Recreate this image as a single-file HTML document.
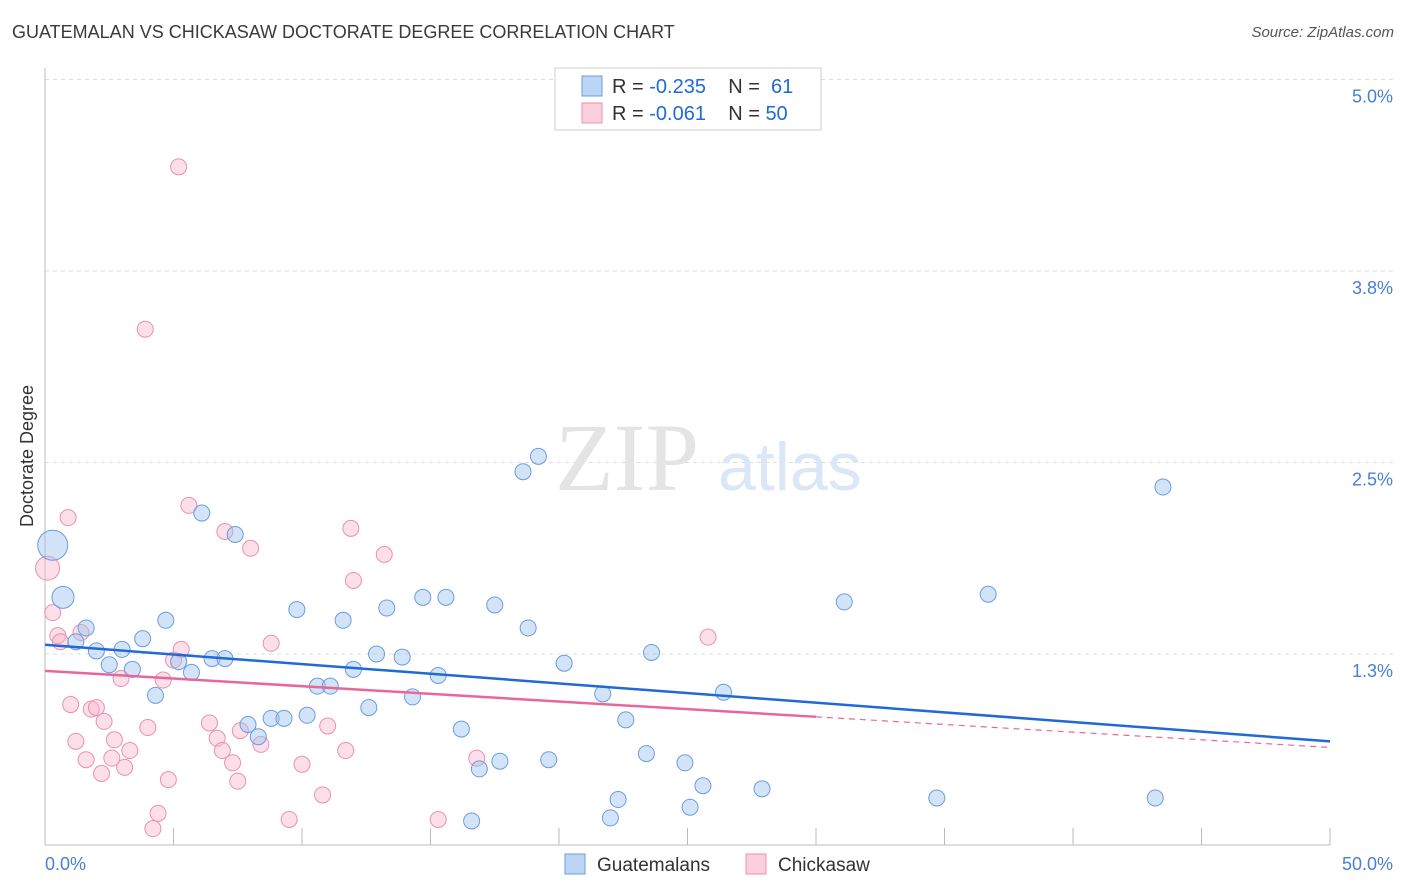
<!DOCTYPE html>
<html><head><meta charset="utf-8"><style>
body{margin:0;background:#fff;font-family:"Liberation Sans",sans-serif;}
#c{position:relative;width:1406px;height:892px;overflow:hidden;}
.title{position:absolute;left:12px;top:22px;font-size:18px;color:#3a3a3a;}
.src{position:absolute;right:12px;top:24px;font-size:15px;color:#555;font-style:italic;}
</style></head><body>
<div id="c">
<div class="title">GUATEMALAN VS CHICKASAW DOCTORATE DEGREE CORRELATION CHART</div>
<div class="src">Source: ZipAtlas.com</div>
<svg id="s" width="1406" height="892" style="position:absolute;left:0;top:0"></svg>
</div>
<script>
const yTicks=[1.25,2.5,3.75,5.0];
const yTickLabels=["1.3%","2.5%","3.8%","5.0%"];
const xTickLabels=["0.0%","50.0%"];
const blueX=[0.3,0.7,1.6,1.2,2.0,3.0,3.8,4.7,2.5,3.4,5.2,5.7,4.3,6.1,7.4,6.5,7.0,7.9,8.3,8.8,9.3,9.8,10.2,10.6,11.1,11.6,12.0,12.6,12.9,13.3,13.9,14.3,14.7,15.3,15.6,16.2,16.6,16.9,17.7,17.5,18.6,19.2,18.8,19.6,20.2,21.7,22.0,22.3,22.6,23.4,23.6,24.9,25.1,25.6,26.4,27.9,31.1,34.7,36.7,43.2,43.5];
const blueY=[1.96,1.62,1.42,1.33,1.27,1.28,1.35,1.47,1.18,1.15,1.20,1.13,0.98,2.17,2.03,1.22,1.22,0.79,0.71,0.83,0.83,1.54,0.85,1.04,1.04,1.47,1.15,0.90,1.25,1.55,1.23,0.97,1.62,1.11,1.62,0.76,0.16,0.50,0.55,1.57,2.44,2.54,1.42,0.56,1.19,0.99,0.18,0.30,0.82,0.60,1.26,0.54,0.25,0.39,1.00,0.37,1.59,0.31,1.64,0.31,2.34];
const pinkX=[0.1,0.3,0.9,0.5,0.6,1.4,1.0,1.2,1.6,1.8,2.0,2.2,2.3,2.6,2.7,2.960,3.1,3.3,3.9,4.0,4.2,4.4,4.6,4.8,5.0,5.2,5.3,5.6,6.4,6.7,6.9,7.0,7.3,7.5,7.6,8.0,8.4,8.8,9.5,10.0,10.8,11.0,11.7,11.9,12.0,13.2,15.3,16.8,25.8];
const pinkY=[1.81,1.52,2.14,1.37,1.33,1.39,0.92,0.68,0.56,0.89,0.90,0.47,0.81,0.57,0.69,1.09,0.51,0.62,3.37,0.77,0.11,0.21,1.08,0.43,1.21,4.43,1.28,2.22,0.80,0.70,0.62,2.05,0.54,0.42,0.75,1.94,0.66,1.32,0.17,0.53,0.33,0.78,0.62,2.07,1.73,1.90,0.17,0.57,1.36];
const blueBig=[15,11];
const X=v=>45+v/50*1285, Y=v=>845.5-v*153.2;
const s=document.getElementById('s');const NS='http://www.w3.org/2000/svg';
function mk(t,a,p){const e=document.createElementNS(NS,t);for(const k in a)e.setAttribute(k,a[k]);(p||s).appendChild(e);return e;}
yTicks.forEach((t,i)=>{
 const g=mk('line',{x1:45,x2:1395,y1:Y(t),y2:Y(t),stroke:'#ddd','stroke-dasharray':'4,4'});
 
 
 const l=mk('text',{x:1393,y:Y(t)+23,'text-anchor':'end','font-size':18,fill:'#4a7fd4','font-family':'Liberation Sans'});l.textContent=yTickLabels[i];
 
 
});
const wm=mk('text',{x:555,y:490,'font-size':96,fill:'#e4e4e4','font-family':'Liberation Serif'});wm.textContent='ZIP';


const wm2=mk('text',{x:718,y:490,'font-size':68,fill:'#dbe6f6','font-family':'Liberation Sans'});wm2.textContent='atlas';


const ax=mk('line',{x1:45,x2:45,y1:68,y2:845,stroke:'#bbb'});


const bx=mk('line',{x1:45,x2:1330,y1:845,y2:845,stroke:'#bbb'});


for(let i=0;i<=10;i++){const t=mk('line',{x1:X(i*5),x2:X(i*5),y1:828,y2:845,stroke:'#bbb'});
 
 }
[[0,'start',45],[1,'end',1393]].forEach(([i,a,x])=>{const l=mk('text',{x:x,y:870,'text-anchor':a,'font-size':18,fill:'#4a7fd4','font-family':'Liberation Sans'});l.textContent=xTickLabels[i];
 
 });
const yt=mk('text',{x:0,y:0,transform:'translate(33,456) rotate(-90)','text-anchor':'middle','font-size':18,fill:'#333','font-family':'Liberation Sans'});yt.textContent='Doctorate Degree';


pinkX.forEach((v,i)=>{const c=mk('circle',{cx:X(v),cy:Y(pinkY[i]),r:i==0?12:8,fill:'rgba(248,185,205,0.45)',stroke:'#e991ae','stroke-width':1});
 
 });
blueX.forEach((v,i)=>{const c=mk('circle',{cx:X(v),cy:Y(blueY[i]),r:i<2?blueBig[i]:8,fill:'rgba(160,195,240,0.45)',stroke:'#6a9ce0','stroke-width':1});
 
 });
const bl=mk('line',{x1:X(0),y1:Y(1.31),x2:X(50),y2:Y(0.68),stroke:'#1f6ad6','stroke-width':2.5});


const pl=mk('line',{x1:X(0),y1:Y(1.14),x2:X(30),y2:Y(0.84),stroke:'#e8679a','stroke-width':2.5});


const pd=mk('line',{x1:X(30),y1:Y(0.84),x2:X(50),y2:Y(0.64),stroke:'#e8679a','stroke-width':1.2,'stroke-dasharray':'6,5'});


// legend box
const lb=mk('rect',{x:555,y:68,width:266,height:62,fill:'#fff',stroke:'#ccc'});


[[0,'rgba(160,195,240,0.7)','#6a9ce0','-0.235',' 61'],[1,'rgba(248,185,205,0.7)','#e991ae','-0.061','50']].forEach(([i,f,st,r,n])=>{
 const y=86+i*27;
 const sw=mk('rect',{x:582,y:y-10,width:20,height:20,fill:f,stroke:st});
 
 
 const t=mk('text',{x:612,y:y+7,'font-size':20,fill:'#333','font-family':'Liberation Sans'});
 t.innerHTML='R = <tspan fill="#1f6ad6">'+r+'</tspan>    N = <tspan fill="#1f6ad6">'+n+'</tspan>';
 t.setAttribute('xml:space','preserve');t.style.whiteSpace='pre';
 
 
});
[[565,'rgba(160,195,240,0.7)','#6a9ce0','Guatemalans'],[746,'rgba(248,185,205,0.7)','#e991ae','Chickasaw']].forEach(([x,f,st,l])=>{
 const r=mk('rect',{x:x,y:854,width:20,height:20,fill:f,stroke:st});
 
 
 const t=mk('text',{x:x+32,y:871,'font-size':19,fill:'#333','font-family':'Liberation Sans'});t.textContent=l;
 
 
});
</script>
</body></html>
